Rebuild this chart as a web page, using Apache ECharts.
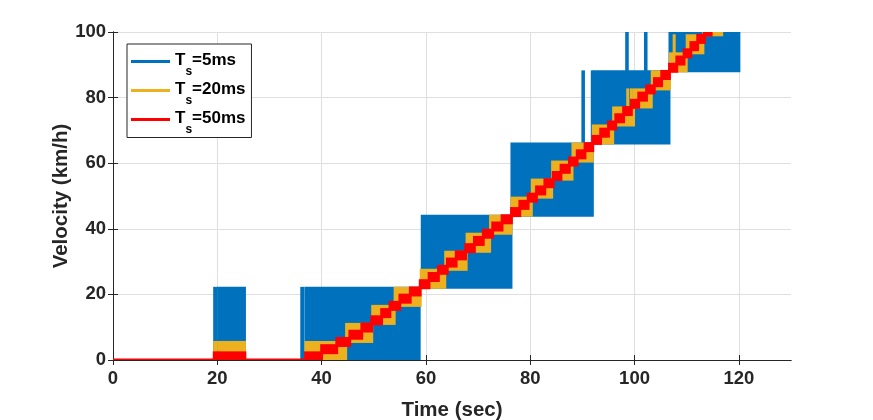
<!DOCTYPE html>
<html><head><meta charset="utf-8">
<script src="https://cdn.jsdelivr.net/npm/echarts@6/dist/echarts.min.js"></script>
<style>html,body{margin:0;padding:0;background:#fff}#c{width:873px;height:420px}</style>
</head><body><div id="c"></div>
<script>
// ---- data ----
const seriesNames = ['Ts=5ms', 'Ts=20ms', 'Ts=50ms'];
const seriesColors = ['#0072BD', '#EDB120', '#FF0000'];
const xTicks = [0, 20, 40, 60, 80, 100, 120];
const yTicks = [0, 20, 40, 60, 80, 100];

// Velocity resolution (km/h) of each sample time: the signal toggles between adjacent levels
const quantum = [22, 5.5, 2.2];

// Ts=5ms: bands the signal toggles within  [tStart, tEnd, low, high]
const blueBands = [
  [19.4, 19.9, 0, 22], [20.2, 25.3, 0, 22],
  [36.1, 36.5, 0, 22], [36.9, 58.8, 0, 22],
  [59.2, 76.4, 22, 44], [76.4, 92.0, 44, 66],
  [90.0, 90.3, 66, 88],
  [91.8, 92.0, 66, 88], [92.2, 106.7, 66, 88],
  [98.4, 98.7, 88, 110], [102.0, 102.3, 88, 110],
  [106.7, 120.1, 88, 110]
];
const blueZero = [[0, 19.4], [19.9, 20.2], [25.3, 36.1], [36.5, 36.9]];

// Ts=20ms staircase: band k spans [k*q, (k+1)*q] between edges k and k+1
const orangeEdges = [36.9, 44.7, 49.7, 54.0, 59.0, 63.7, 67.8, 72.3, 76.4, 80.3, 84.2, 88.1,
  92.0, 95.9, 99.9, 103.3, 106.8, 110.0, 113.2, 116.8];
const orangeBands = [
  [19.4, 19.9, 0, 5.5], [20.2, 25.3, 0, 5.5],
  [98.6, 98.8, 77, 82.5], [99.3, 99.5, 77, 82.5], [107.5, 107.7, 93.5, 99]
];
const orangeZero = [[0, 19.4], [19.9, 20.2], [25.3, 36.9]];

// Ts=50ms staircase
const redEdges = [36.9, 40.0, 42.9, 45.4, 47.7, 49.6, 51.5, 53.1, 55.0, 57.0, 58.9,
  60.6, 62.4, 64.1, 65.8, 67.6, 69.3, 71.0, 72.8, 74.6, 76.4,
  78.0, 79.6, 81.2, 82.8, 84.4, 85.9, 87.5, 89.0, 90.5, 92.0,
  93.5, 95.0, 96.4, 97.9, 99.4, 100.8, 102.3, 103.8, 105.2, 106.7,
  108.1, 109.5, 110.8, 112.1, 113.4, 114.7];
const redBands = [[19.4, 19.9, 0, 2.2], [20.2, 25.3, 0, 2.2]];
const redZero = [[0, 19.4], [19.9, 20.2], [25.3, 36.9]];

// ---- build series ----
function stairs(edges, q) {
  const out = [];
  for (let k = 0; k < edges.length - 1; k++) out.push([edges[k], edges[k + 1], k * q, (k + 1) * q]);
  return out;
}
function zeros(list) { return list.map(s => [s[0], s[1], 0, 0]); }

const seriesData = [
  zeros(blueZero).concat(blueBands),
  zeros(orangeZero).concat(orangeBands, stairs(orangeEdges, quantum[1])),
  zeros(redZero).concat(redBands, stairs(redEdges, quantum[2]))
];

const halfWidth = [1, 1, 1.4]; // half line width in px per series
function renderBand(params, api) {
  const LW = halfWidth[params.seriesIndex];
  const a = api.coord([api.value(0), api.value(3)]);
  const b = api.coord([api.value(1), api.value(2)]);
  const cs = params.coordSys;
  const shape = echarts.graphic.clipRectByRect(
    { x: a[0] - LW, y: a[1] - LW, width: b[0] - a[0] + 2 * LW, height: b[1] - a[1] + 2 * LW },
    { x: cs.x, y: cs.y, width: cs.width, height: cs.height + 1 });
  if (!shape) return;
  return { type: 'rect', shape: shape, style: { fill: api.visual('color') } };
}

const FONT = 'Liberation Sans';
const chart = echarts.init(document.getElementById('c'), null, { renderer: 'canvas' });
const axisLine = { show: true, lineStyle: { color: '#262626', width: 1 } };
function tick(values) {
  return { show: true, inside: true, length: 5, customValues: values, lineStyle: { color: '#262626' } };
}
chart.setOption({
  animation: false,
  backgroundColor: '#fff',
  grid: { left: 113, right: 82, top: 32, bottom: 60, outerBoundsMode: 'none', containLabel: false },
  xAxis: [
    {
      type: 'value', min: xTicks[0], max: 130, interval: xTicks[1] - xTicks[0],
      name: 'Time (sec)', nameLocation: 'middle', nameGap: 40, nameMoveOverlap: false,
      nameTextStyle: { fontFamily: FONT, fontWeight: 'bold', fontSize: 20.5, color: '#262626' },
      axisLine: axisLine, axisTick: tick(xTicks),
      axisLabel: { fontFamily: FONT, fontWeight: 'bold', fontSize: 18.5, color: '#262626', margin: 9,
        customValues: xTicks },
      splitLine: { show: true, lineStyle: { color: '#DFDFDF', width: 1 } }
    },
    {
      type: 'value', position: 'top', min: xTicks[0], max: 130, interval: 20,
      axisLine: axisLine, axisTick: tick(xTicks),
      axisLabel: { show: false }, splitLine: { show: false }
    }
  ],
  yAxis: [
    {
      type: 'value', min: yTicks[0], max: yTicks[yTicks.length - 1], interval: yTicks[1] - yTicks[0],
      name: 'Velocity (km/h)', nameLocation: 'middle', nameGap: 41, nameMoveOverlap: false,
      nameTextStyle: { fontFamily: FONT, fontWeight: 'bold', fontSize: 20.5, color: '#262626' },
      axisLine: axisLine, axisTick: tick(yTicks),
      axisLabel: { fontFamily: FONT, fontWeight: 'bold', fontSize: 18.5, color: '#262626', margin: 7 },
      splitLine: { show: true, lineStyle: { color: '#DFDFDF', width: 1 } }
    },
    {
      type: 'value', position: 'right', min: 0, max: 100, interval: 20,
      axisLine: axisLine, axisTick: tick(yTicks),
      axisLabel: { show: false }, splitLine: { show: false }
    }
  ],
  legend: {
    left: 127, top: 44, orient: 'vertical',
    backgroundColor: '#fff', borderColor: '#262626', borderWidth: 1, borderRadius: 0,
    padding: [7.5, 6, 2, 4], itemGap: 3, itemWidth: 39, itemHeight: 3, icon: 'rect',
    data: seriesNames.map((n, i) => ({ name: n, itemStyle: { color: seriesColors[i] } })),
    formatter: name => '{t|T}{s|s}{t|' + name.slice(2) + '}',
    textStyle: {
      fontFamily: FONT, fontWeight: 'bold', fontSize: 17, color: '#000',
      rich: {
        t: { fontFamily: FONT, fontWeight: 'bold', fontSize: 17, color: '#000', lineHeight: 20, verticalAlign: 'top' },
        s: { fontFamily: FONT, fontWeight: 'bold', fontSize: 12, color: '#000', lineHeight: 13, padding: [14, 0, 0, 0], verticalAlign: 'top' }
      }
    }
  },
  series: seriesNames.map((n, i) => ({
    name: n, type: 'custom', renderItem: renderBand,
    xAxisIndex: 0, yAxisIndex: 0,
    itemStyle: { color: seriesColors[i] },
    encode: { x: [0, 1], y: [2, 3] },
    data: seriesData[i], clip: true
  }))
});
</script></body></html>
